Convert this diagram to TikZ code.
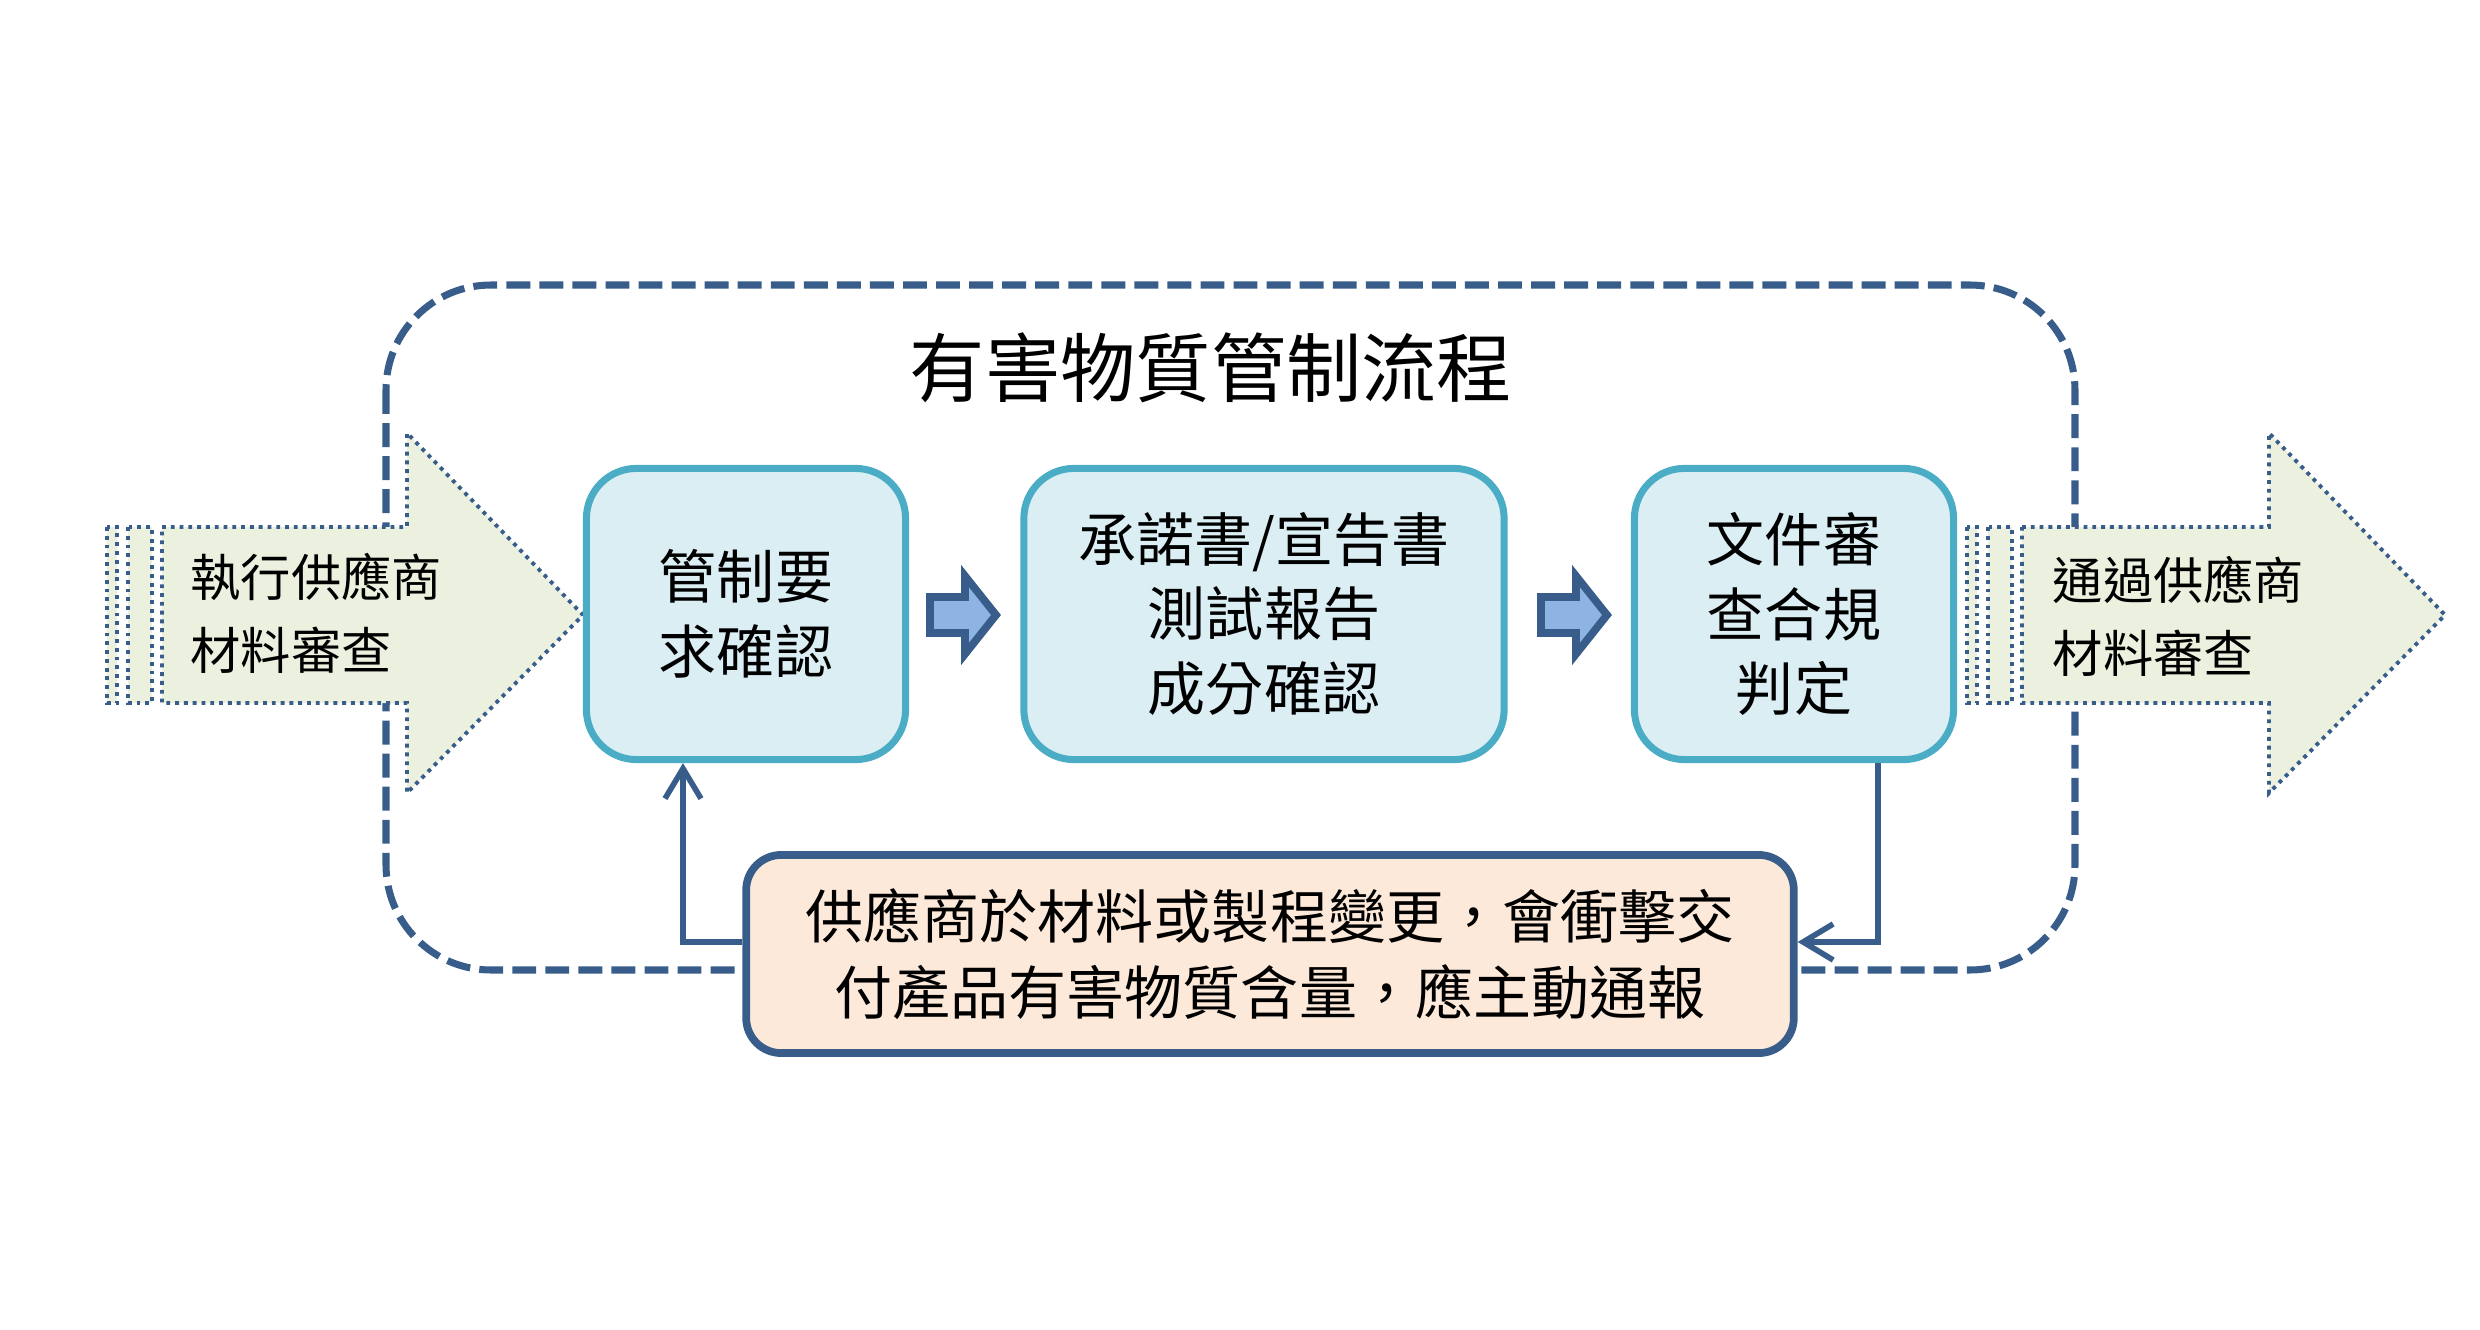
\documentclass[tikz,border=0pt]{standalone}
\usepackage{fontspec}
\setmainfont{Noto Sans CJK TC}
\usepackage{tikz}
\usetikzlibrary{arrows.meta}

\definecolor{frameblue}{HTML}{385D8A}
\definecolor{boxfill}{HTML}{DAEEF3}
\definecolor{boxline}{HTML}{4BACC6}
\definecolor{notefill}{HTML}{FDE9D9}
\definecolor{bigfill}{HTML}{EBF1DE}
\definecolor{smallfill}{HTML}{8EB4E3}

\begin{document}
\begin{tikzpicture}[x=0.01cm, y=-0.01cm,
        procbox/.style={draw=boxline, fill=boxfill, line width=2pt, rounded corners=0.5cm,
            minimum height=2.91cm, align=center, font=\fontsize{16.5}{21.3}\selectfont},
        notebox/.style={draw=frameblue, fill=notefill, line width=2.2pt, rounded corners=0.35cm,
            minimum width=10.47cm, minimum height=1.98cm, align=center, font=\fontsize{16.5}{21.6}\selectfont},
        frameline/.style={draw=frameblue, line width=2pt, dash pattern=on 6.8pt off 2.6pt, rounded corners=1.05cm},
        bigarrow/.style={draw=frameblue, fill=bigfill, line width=1.1pt, dash pattern=on 1.1pt off 1.4pt},
        smallarrow/.style={draw=frameblue, fill=smallfill, line width=2.2pt, miter limit=4},
        fbline/.style={draw=frameblue, line width=1.6pt, -{Straight Barb[length=0.3cm,width=0.36cm]}},
        arrowtext/.style={align=left, anchor=west, inner sep=0pt, font=\fontsize{14.3}{20.8}\selectfont}]
    \useasboundingbox (0,0) rectangle (2480,1330);

    % dashed frame
    \draw[frameline] (386,285) rectangle (2075,970);
    \node[font=\fontsize{21.4}{26}\selectfont] (title) at (1211,368) {有害物質管制流程};

    % input arrow
    \begin{scope}[shift={(107,0)}]
        \draw[bigarrow] (0,527) rectangle (10,703);
        \draw[bigarrow] (21,527) rectangle (45,703);
        \draw[bigarrow] (55,527) -- (300,527) -- (300,433) -- (476,615) -- (300,793) -- (300,703) -- (55,703) -- cycle;
    \end{scope}
    \node[arrowtext] (inL) at (190,613) {執行供應商\\材料審查};

    % output arrow
    \begin{scope}[shift={(1967,0)}]
        \draw[bigarrow] (0,527) rectangle (10,703);
        \draw[bigarrow] (21,527) rectangle (45,703);
        \draw[bigarrow] (55,527) -- (302,527) -- (302,433) -- (478,615) -- (302,793) -- (302,703) -- (55,703) -- cycle;
    \end{scope}
    \node[arrowtext] (outR) at (2052,616) {通過供應商\\材料審查};

    % process steps
    \node[procbox, minimum width=3.19cm] (box1) at (746,614) {管制要\\求確認};
    \node[procbox, minimum width=4.80cm] (box2) at (1264,614) {承諾書/宣告書\\測試報告\\成分確認};
    \node[procbox, minimum width=3.19cm] (box3) at (1794,614) {文件審\\查合規\\判定};

    % small block arrows
    \foreach \ax in {930,1541}{
        \draw[smallarrow] (\ax,597) -- (\ax+35,597) -- (\ax+35,576) -- (\ax+66,615)
            -- (\ax+35,654) -- (\ax+35,633) -- (\ax,633) -- cycle;
    }

    % feedback
    \node[notebox] (note) at (1270,954) {供應商於材料或製程變更，會衝擊交\\付產品有害物質含量，應主動通報};
    \coordinate (fbL) at (683,942);
    \coordinate (fbR) at (1878,942);
    \draw[fbline] (note.west |- fbL) -- (fbL) -- (fbL |- box1.south);
    \draw[fbline] (fbR |- box3.south) -- (fbR) -- (fbR -| note.east);
\end{tikzpicture}
\end{document}
